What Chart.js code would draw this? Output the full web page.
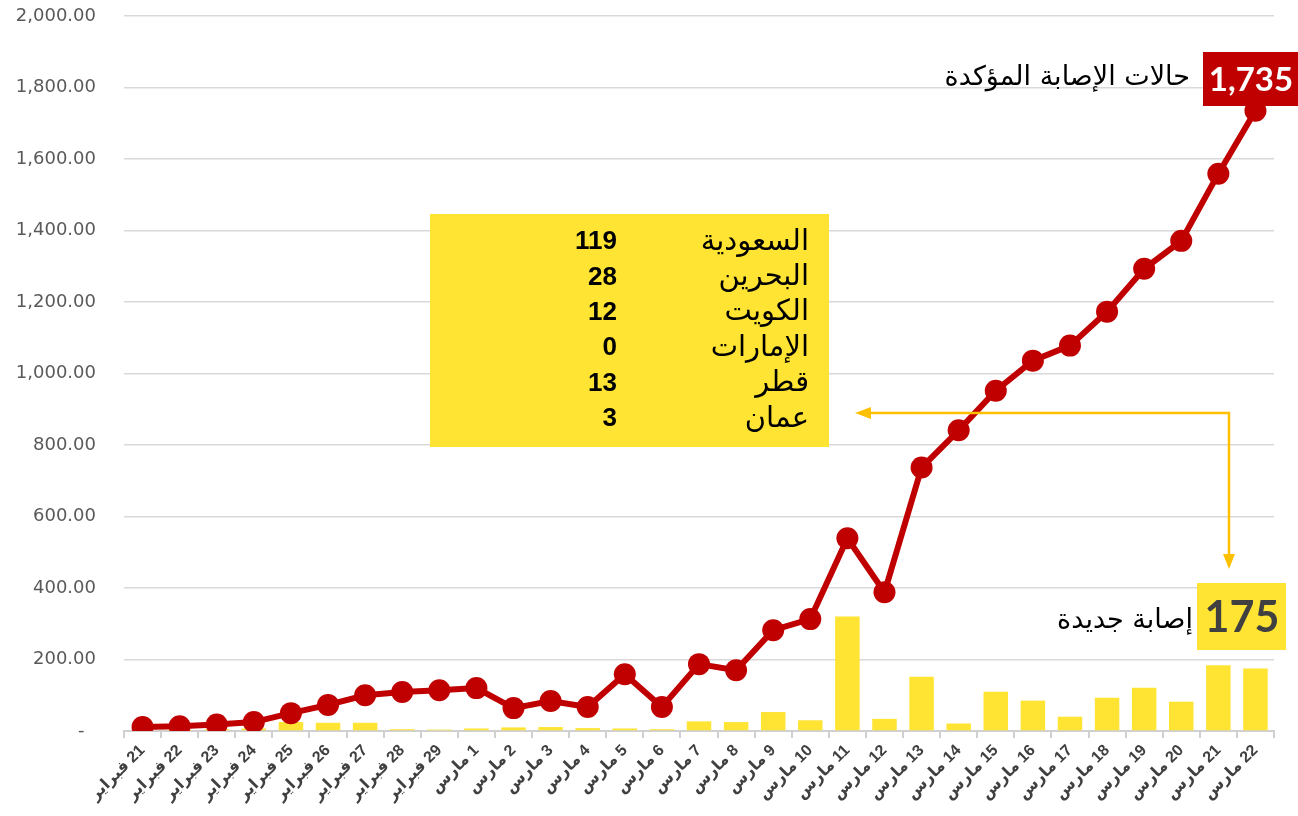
<!DOCTYPE html>
<html>
<head>
<meta charset="utf-8">
<script src="https://cdn.jsdelivr.net/npm/chart.js@4.4.1/dist/chart.umd.min.js"></script>
<style>
  html, body { margin: 0; padding: 0; background: #fff; }
  #wrap { width: 1298px; height: 816px; }
</style>
</head>
<body>
<div id="wrap"><canvas id="chartCases" width="1298" height="816"></canvas></div>
<script>
const dayLabels = [
    '21 فبراير', '22 فبراير', '23 فبراير', '24 فبراير', '25 فبراير', '26 فبراير',
    '27 فبراير', '28 فبراير', '29 فبراير',
    '1 مارس', '2 مارس', '3 مارس', '4 مارس', '5 مارس', '6 مارس', '7 مارس', '8 مارس',
    '9 مارس', '10 مارس', '11 مارس', '12 مارس', '13 مارس', '14 مارس', '15 مارس',
    '16 مارس', '17 مارس', '18 مارس', '19 مارس', '20 مارس', '21 مارس', '22 مارس'
];
const totalCases = [
    11, 13, 18, 25, 50, 73, 100, 109, 114,
    120, 64, 84, 67, 159, 67, 187, 170, 282, 313, 539, 388,
    737, 841, 952, 1036, 1078, 1173, 1293, 1371, 1559, 1735
];
const newCases = [
    2, 1, 5, 7, 25, 23, 23, 5, 4,
    7, 10, 11, 8, 7, 5, 27, 25, 53, 30, 320, 34,
    152, 21, 110, 85, 40, 93, 121, 82, 184, 175
];
const countryNames = ['السعودية', 'البحرين', 'الكويت', 'الإمارات', 'قطر', 'عمان'];
const countryCases = [119, 28, 12, 0, 13, 3];

const totalLabel = 'حالات الإصابة المؤكدة';
const newLabel = 'إصابة جديدة';

const red = '#C00000';
const yellow = '#FFE433';
const arrowColor = '#FFC000';

// boxes, labels and the arrow drawn on top of the chart
const annotations = {
    id: 'annotations',
    afterDatasetsDraw(chart) {
        const ctx = chart.ctx;
        const last = totalCases.length - 1;
        ctx.save();

        // country table
        ctx.fillStyle = yellow;
        ctx.fillRect(430, 214, 399, 233);
        ctx.fillStyle = '#000';
        ctx.textBaseline = 'middle';
        countryNames.forEach((name, i) => {
            const yy = 242 + i * 35.4;
            ctx.textAlign = 'right';
            ctx.font = '29px "DejaVu Sans", sans-serif';
            ctx.fillText(name, 809, yy);
            ctx.font = 'bold 26px "Liberation Sans", Arial, sans-serif';
            ctx.fillText(countryCases[i], 617, yy);
        });

        // arrow
        ctx.strokeStyle = arrowColor;
        ctx.fillStyle = arrowColor;
        ctx.lineWidth = 2.5;
        ctx.beginPath();
        ctx.moveTo(870, 413);
        ctx.lineTo(1229, 413);
        ctx.lineTo(1229, 556);
        ctx.stroke();
        ctx.beginPath();
        ctx.moveTo(855, 413);
        ctx.lineTo(871, 407);
        ctx.lineTo(871, 419);
        ctx.closePath();
        ctx.fill();
        ctx.beginPath();
        ctx.moveTo(1229, 569);
        ctx.lineTo(1223, 554);
        ctx.lineTo(1235, 554);
        ctx.closePath();
        ctx.fill();

        // latest total
        ctx.fillStyle = red;
        ctx.fillRect(1203, 52, 95, 54);
        ctx.fillStyle = '#fff';
        ctx.textAlign = 'center';
        ctx.font = 'bold 33px Lato, sans-serif';
        ctx.fillText(totalCases[last].toLocaleString('en-US'), 1251, 80);
        ctx.fillStyle = '#000';
        ctx.textAlign = 'right';
        ctx.font = '27px "DejaVu Sans", sans-serif';
        ctx.fillText(totalLabel, 1190, 78);

        // latest new cases
        ctx.fillStyle = yellow;
        ctx.fillRect(1197, 583, 89, 67);
        ctx.fillStyle = '#404040';
        ctx.textAlign = 'center';
        ctx.font = 'bold 43px Lato, sans-serif';
        ctx.fillText(newCases[last], 1242, 618);
        ctx.fillStyle = '#000';
        ctx.textAlign = 'right';
        ctx.font = '27px "DejaVu Sans", sans-serif';
        ctx.fillText(newLabel, 1193, 621);

        ctx.restore();
    }
};

const ctx = document.getElementById('chartCases').getContext('2d');
const myChart = new Chart(ctx, {
    type: 'bar',
    data: {
        labels: dayLabels,
        datasets: [{
            type: 'line',
            label: totalLabel,
            data: totalCases,
            borderColor: red,
            backgroundColor: red,
            borderWidth: 6,
            pointRadius: 11,
            pointHoverRadius: 11,
            pointBorderWidth: 0,
            pointBackgroundColor: red,
            tension: 0,
            order: 0
        }, {
            type: 'bar',
            label: newLabel,
            data: newCases,
            backgroundColor: yellow,
            barPercentage: 0.66,
            categoryPercentage: 1,
            order: 1
        }]
    },
    options: {
        responsive: false,
        animation: false,
        layout: { padding: { top: 16, right: 24, left: 0, bottom: 0 } },
        plugins: {
            legend: { display: false },
            tooltip: { enabled: false }
        },
        scales: {
            x: {
                afterFit: (scale) => { scale.height = 85; },
                grid: {
                    drawOnChartArea: false,
                    drawTicks: true,
                    tickLength: 7,
                    color: '#d0d0d0',
                    lineWidth: 2
                },
                border: { display: true, color: '#d0d0d0', width: 2 },
                ticks: {
                    minRotation: 45,
                    maxRotation: 45,
                    autoSkip: false,
                    padding: 3,
                    color: '#404040',
                    font: { family: '"Liberation Sans", "DejaVu Sans", sans-serif', size: 16, weight: 'bold' },
                    callback: (v, i) => '\u200F' + dayLabels[i]
                }
            },
            y: {
                min: 0,
                max: 2000,
                afterFit: (scale) => {
                    scale.width = 124;
                    scale.paddingTop = 0;
                    scale.paddingBottom = 0;
                },
                border: { display: false },
                grid: { color: '#d9d9d9', lineWidth: 1.5, drawTicks: false },
                ticks: {
                    stepSize: 200,
                    padding: 28,
                    color: '#595959',
                    font: { family: '"DejaVu Sans", sans-serif', size: 18 },
                    callback: (v) => v === 0 ? '-  ' : v.toLocaleString('en-US', { minimumFractionDigits: 2, maximumFractionDigits: 2 })
                }
            }
        }
    },
    plugins: [annotations]
});
</script>
</body>
</html>
